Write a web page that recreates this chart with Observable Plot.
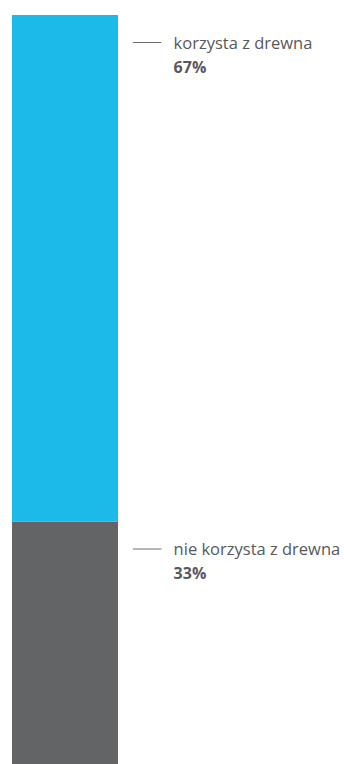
<!DOCTYPE html>
<html>
<head>
<meta charset="utf-8">
<script src="https://cdn.jsdelivr.net/npm/d3@7"></script>
<script src="https://cdn.jsdelivr.net/npm/@observablehq/plot@0.6"></script>
<style>
  html, body { margin: 0; padding: 0; background: #fff; overflow: hidden; }
  #chart svg { display: block; }
</style>
</head>
<body>
<div id="chart"></div>
<script>
// Data
const categories = ["nie korzysta z drewna", "korzysta z drewna"];
const values = [33, 67];
const valueLabels = ["33%", "67%"];
const colors = ["#636466", "#1bbae8"];

// Build stacked table (bottom to top)
let acc = 0;
const rows = categories.map((c, i) => {
  const r = { category: c, value: values[i], label: valueLabels[i], y1: acc, y2: acc + values[i], color: colors[i] };
  acc += values[i];
  return r;
});

const leaderX = [1.14, 1.41];
const textX = 1.52;

const chart = Plot.plot({
  width: 344,
  height: 764,
  margin: 0,
  style: { fontFamily: "'Open Sans', Lato, sans-serif", overflow: "hidden" },
  x: { domain: [0, 1], range: [12, 118], axis: null },
  y: { domain: [0, 100], range: [771, 15], axis: null },
  marks: [
    Plot.rectY(rows, { x1: 0, x2: 1, y1: "y1", y2: "y2", fill: "color" }),
    Plot.ruleY(rows, { y: "y2", x1: leaderX[0], x2: leaderX[1], stroke: "#6d6e70", strokeWidth: 1, dy: 27 }),
    Plot.text(rows, { x: textX, y: "y2", text: "category", textAnchor: "start", lineAnchor: "bottom", dy: 33, fontSize: 16.5, fill: "#58595b" }),
    Plot.text(rows, { x: textX, y: "y2", text: "label", textAnchor: "start", lineAnchor: "bottom", dy: 57, fontSize: 16, fontWeight: "bold", fill: "#58595b" })
  ]
});
document.getElementById("chart").appendChild(chart);
</script>
</body>
</html>
